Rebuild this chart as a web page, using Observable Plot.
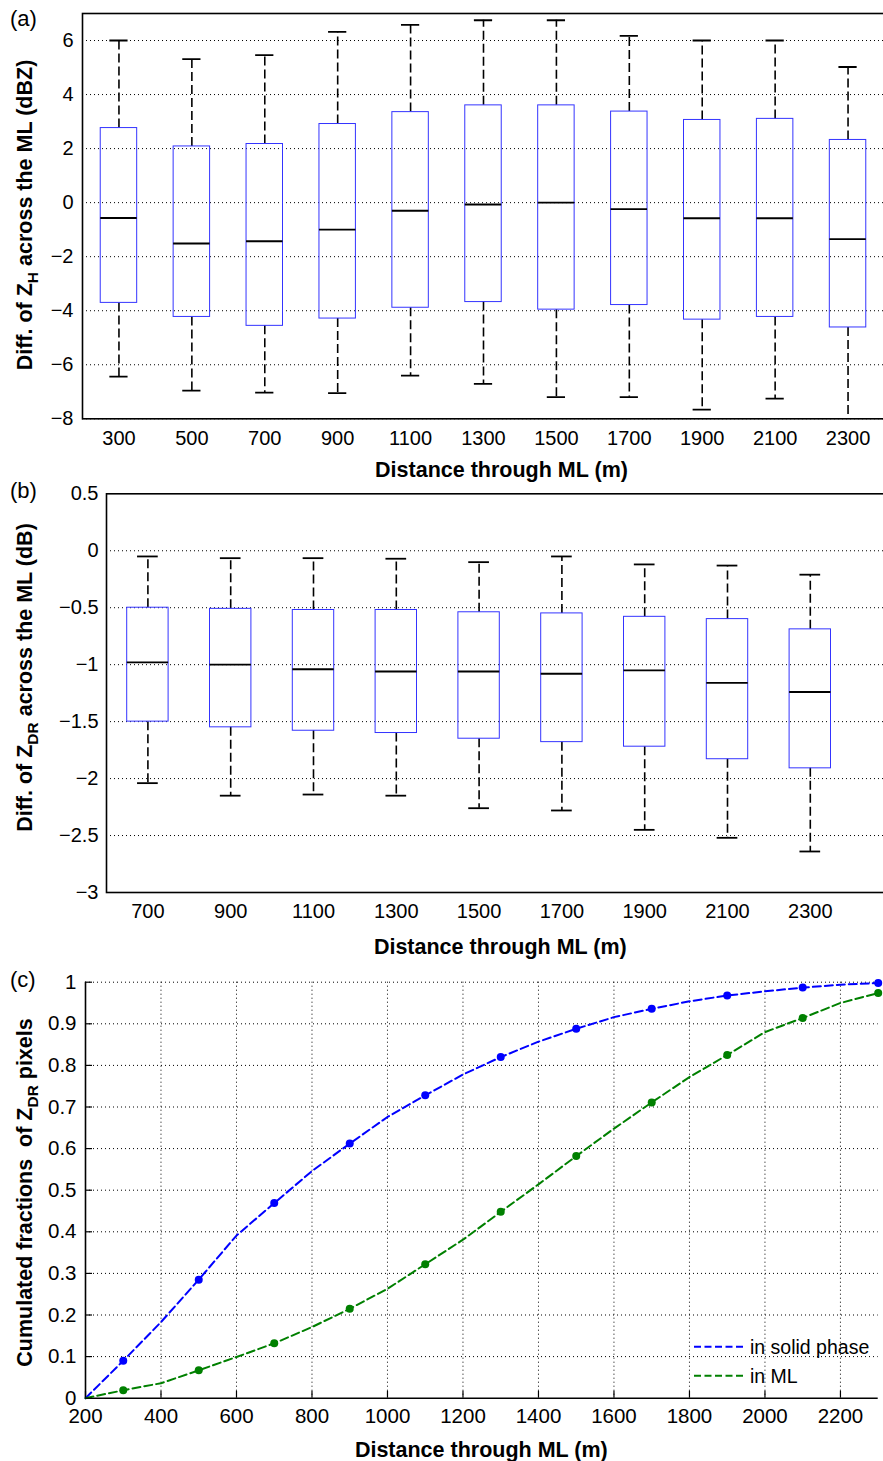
<!DOCTYPE html>
<html><head><meta charset="utf-8">
<script src="https://cdn.jsdelivr.net/npm/d3@7"></script>
<script src="https://cdn.jsdelivr.net/npm/@observablehq/plot@0.6"></script>
<style>
html,body{margin:0;padding:0;background:#fff;overflow:hidden;}
#wrap{width:883px;height:1461px;}
#wrap svg{display:block;}
</style></head><body><div id="wrap"></div>
<script>
// ---------- Panel (a): difference of ZH across the ML ----------
const distA = [300, 500, 700, 900, 1100, 1300, 1500, 1700, 1900, 2100, 2300];
const zhHigh = [6.0, 5.31, 5.46, 6.32, 6.58, 6.75, 6.75, 6.17, 6.0, 6.0, 5.02];
const zhQ3   = [2.76, 2.08, 2.17, 2.91, 3.35, 3.60, 3.60, 3.37, 3.06, 3.10, 2.32];
const zhMed  = [-0.57, -1.51, -1.43, -1.0, -0.30, -0.07, 0.0, -0.24, -0.58, -0.58, -1.35];
const zhQ1   = [-3.71, -4.23, -4.56, -4.29, -3.89, -3.68, -3.96, -3.79, -4.33, -4.23, -4.62];
const zhLow  = [-6.44, -6.96, -7.03, -7.05, -6.40, -6.71, -7.2, -7.2, -7.66, -7.25, -8.4];
const yTicksA = [-8, -6, -4, -2, 0, 2, 4, 6];

// ---------- Panel (b): difference of ZDR across the ML ----------
const distB = [700, 900, 1100, 1300, 1500, 1700, 1900, 2100, 2300];
const zdrHigh = [-0.05, -0.065, -0.065, -0.07, -0.10, -0.05, -0.12, -0.13, -0.21];
const zdrQ3   = [-0.50, -0.51, -0.52, -0.52, -0.54, -0.55, -0.58, -0.60, -0.69];
const zdrMed  = [-0.98, -1.00, -1.04, -1.06, -1.06, -1.08, -1.05, -1.16, -1.24];
const zdrQ1   = [-1.50, -1.55, -1.58, -1.60, -1.65, -1.68, -1.72, -1.83, -1.91];
const zdrLow  = [-2.04, -2.15, -2.14, -2.15, -2.26, -2.28, -2.45, -2.52, -2.64];
const yTicksB = [-3, -2.5, -2, -1.5, -1, -0.5, 0, 0.5];

// ---------- Panel (c): cumulated fractions ----------
const distC = [200, 300, 400, 500, 600, 700, 800, 900, 1000, 1100, 1200, 1300, 1400, 1500, 1600, 1700, 1800, 1900, 2000, 2100, 2200, 2300];
const fracSolid = [0, 0.090, 0.183, 0.285, 0.391, 0.469, 0.546, 0.612, 0.676, 0.728, 0.778, 0.820, 0.857, 0.888, 0.916, 0.936, 0.954, 0.968, 0.978, 0.987, 0.994, 0.998];
const fracML    = [0, 0.019, 0.036, 0.067, 0.099, 0.132, 0.171, 0.215, 0.263, 0.322, 0.381, 0.448, 0.514, 0.582, 0.648, 0.711, 0.772, 0.825, 0.880, 0.914, 0.950, 0.974];
const markerDist = [300, 500, 700, 900, 1100, 1300, 1500, 1700, 1900, 2100, 2300];
const xTicksC = [200, 400, 600, 800, 1000, 1200, 1400, 1600, 1800, 2000, 2200];
const yTicksC = [0, 0.1, 0.2, 0.3, 0.4, 0.5, 0.6, 0.7, 0.8, 0.9, 1];
const seriesNames = ["in solid phase", "in ML"];
const seriesColors = ["#0000ff", "#008000"];

// ---------- helpers ----------
const FONT = '"Liberation Sans", Arial, Helvetica, sans-serif';
const fmt = d => (d < 0 ? "\u2212" + String(Math.abs(d)) : String(d));
const gridStyle = {stroke: "black", strokeOpacity: 1, strokeWidth: 1, strokeDasharray: "1,3"};
const BLUE_BOX = "#3434ff";
const WHISKER_DASH = "9,4";
const CURVE_DASH = "8,4";

function boxMarks(rows) {
  const half = 50, cap = 25;
  return [
    Plot.ruleX(rows, {x: "dist", y1: "q3", y2: "high", stroke: "black", strokeWidth: 1.6, strokeDasharray: WHISKER_DASH, clip: true}),
    Plot.ruleX(rows, {x: "dist", y1: "q1", y2: "low", stroke: "black", strokeWidth: 1.6, strokeDasharray: WHISKER_DASH, clip: true}),
    Plot.ruleY(rows, {y: "high", x1: d => d.dist - cap, x2: d => d.dist + cap, stroke: "black", strokeWidth: 1.8, clip: true}),
    Plot.ruleY(rows, {y: "low", x1: d => d.dist - cap, x2: d => d.dist + cap, stroke: "black", strokeWidth: 1.8, clip: true}),
    Plot.rect(rows, {x1: d => d.dist - half, x2: d => d.dist + half, y1: "q1", y2: "q3", fill: "none", stroke: BLUE_BOX, strokeWidth: 1}),
    Plot.ruleY(rows, {y: "med", x1: d => d.dist - half, x2: d => d.dist + half, stroke: "black", strokeWidth: 1.9})
  ];
}

function addLabel(svg, x, y, rot, size, weight, anchor, parts) {
  const t = d3.select(svg).append("text")
    .attr("transform", `translate(${x},${y}) rotate(${rot})`)
    .attr("text-anchor", anchor)
    .attr("font-size", size)
    .attr("font-weight", weight)
    .attr("font-family", FONT)
    .attr("fill", "black")
    .style("white-space", "pre");
  let shifted = false;
  for (const [s, sub] of parts) {
    const ts = t.append("tspan").text(s);
    if (sub && !shifted) { ts.attr("dy", size * 0.3).attr("font-size", size * 0.72); shifted = true; }
    else if (sub) { ts.attr("font-size", size * 0.72); }
    else if (!sub && shifted) { ts.attr("dy", -size * 0.3); shifted = false; }
  }
  return t;
}

const baseStyle = {fontSize: "20px", fontFamily: FONT, color: "black", background: "none", overflow: "visible"};
const wrap = document.getElementById("wrap");

// ---------- (a) ----------
const rowsA = distA.map((d, i) => ({dist: d, high: zhHigh[i], q3: zhQ3[i], med: zhMed[i], q1: zhQ1[i], low: zhLow[i]}));
const chartA = Plot.plot({
  width: 883, height: 480,
  marginLeft: 82, marginRight: -1, marginTop: 13, marginBottom: 61.7,
  style: baseStyle,
  x: {domain: [200, 2400]},
  y: {domain: [-8, 7]},
  marks: [
    Plot.gridY(yTicksA, gridStyle),
    ...boxMarks(rowsA),
    Plot.frame({stroke: "black", strokeWidth: 1.6}),
    Plot.axisY(yTicksA, {tickSize: 0, tickPadding: 9, label: null, tickFormat: fmt}),
    Plot.axisX(distA, {tickSize: 0, tickPadding: 11.7, label: null, tickFormat: d => String(d)})
  ]
});
wrap.appendChild(chartA);
addLabel(chartA, 10, 25.5, 0, 22, "normal", "start", [["(a)", false]]);
addLabel(chartA, 32, 215, -90, 21.5, "bold", "middle", [["Diff. of Z", false], ["H", true], [" across the ML (dBZ)", false]]);
addLabel(chartA, 501.5, 477, 0, 21.5, "bold", "middle", [["Distance through ML (m)", false]]);

// ---------- (b) ----------
const rowsB = distB.map((d, i) => ({dist: d, high: zdrHigh[i], q3: zdrQ3[i], med: zdrMed[i], q1: zdrQ1[i], low: zdrLow[i]}));
const chartB = Plot.plot({
  width: 883, height: 478,
  marginLeft: 106, marginRight: -9.6, marginTop: 13.3, marginBottom: 66,
  style: baseStyle,
  x: {domain: [600, 2500]},
  y: {domain: [-3, 0.5]},
  marks: [
    Plot.gridY(yTicksB.filter(v => v > -3 && v < 0.5), gridStyle),
    ...boxMarks(rowsB),
    Plot.frame({stroke: "black", strokeWidth: 1.6}),
    Plot.axisY(yTicksB, {tickSize: 0, tickPadding: 8, label: null, tickFormat: fmt}),
    Plot.axisX(distB, {tickSize: 0, tickPadding: 11.5, label: null, tickFormat: d => String(d)})
  ]
});
wrap.appendChild(chartB);
addLabel(chartB, 10, 18.4, 0, 22, "normal", "start", [["(b)", false]]);
addLabel(chartB, 32, 197.5, -90, 21.5, "bold", "middle", [["Diff. of Z", false], ["DR", true], [" across the ML (dB)", false]]);
addLabel(chartB, 500.3, 474, 0, 21.5, "bold", "middle", [["Distance through ML (m)", false]]);

// ---------- (c) ----------
const rowsC = distC.map((d, i) => ({dist: d, solid: fracSolid[i], ml: fracML[i]}));
const markC = rowsC.filter(r => markerDist.includes(r.dist));
const chartC = Plot.plot({
  width: 883, height: 503,
  marginLeft: 85, marginRight: 5.3, marginTop: 23.7, marginBottom: 63.3,
  style: {...baseStyle, fontSize: "20.5px"},
  x: {domain: [200, 2300]},
  y: {domain: [0, 1]},
  marks: [
    Plot.gridX(xTicksC.slice(1), gridStyle),
    Plot.gridY(yTicksC.slice(1), gridStyle),
    Plot.ruleY([yTicksC[0]], {stroke: "black", strokeWidth: 1.6}),
    Plot.ruleX([xTicksC[0]], {stroke: "black", strokeWidth: 1.6}),
    Plot.line(rowsC, {x: "dist", y: "solid", stroke: seriesColors[0], strokeWidth: 2, strokeDasharray: CURVE_DASH}),
    Plot.line(rowsC, {x: "dist", y: "ml", stroke: seriesColors[1], strokeWidth: 2, strokeDasharray: CURVE_DASH}),
    Plot.dot(markC, {x: "dist", y: "solid", r: 4, fill: seriesColors[0], stroke: "none"}),
    Plot.dot(markC, {x: "dist", y: "ml", r: 4, fill: seriesColors[1], stroke: "none"}),
    Plot.axisY(yTicksC, {tickSize: -7, tickPadding: 16, label: null, tickFormat: d => String(d), strokeWidth: 1.2}),
    Plot.axisX(xTicksC, {tickSize: -7, tickPadding: 17.6, label: null, tickFormat: d => String(d), strokeWidth: 1.2})
  ]
});
wrap.appendChild(chartC);
addLabel(chartC, 10, 29, 0, 22, "normal", "start", [["(c)", false]]);
addLabel(chartC, 32, 234.5, -90, 21.5, "bold", "middle", [["Cumulated fractions  of Z", false], ["DR", true], [" pixels", false]]);
addLabel(chartC, 481.3, 499, 0, 21.5, "bold", "middle", [["Distance through ML (m)", false]]);

// legend (lower right, inside the axes, no box)
const lg = d3.select(chartC).append("g")
  .attr("font-family", FONT).attr("font-size", 19.5).attr("text-anchor", "start");
seriesNames.forEach((name, i) => {
  const y = 388.7 + i * 29;
  lg.append("line").attr("x1", 694).attr("x2", 744).attr("y1", y).attr("y2", y)
    .attr("stroke", seriesColors[i]).attr("stroke-width", 2).attr("stroke-dasharray", "7,3.5");
  lg.append("text").attr("x", 750).attr("y", y + 7).attr("fill", "black")
    .attr("text-anchor", "start").text(name);
});
</script>
</body></html>
